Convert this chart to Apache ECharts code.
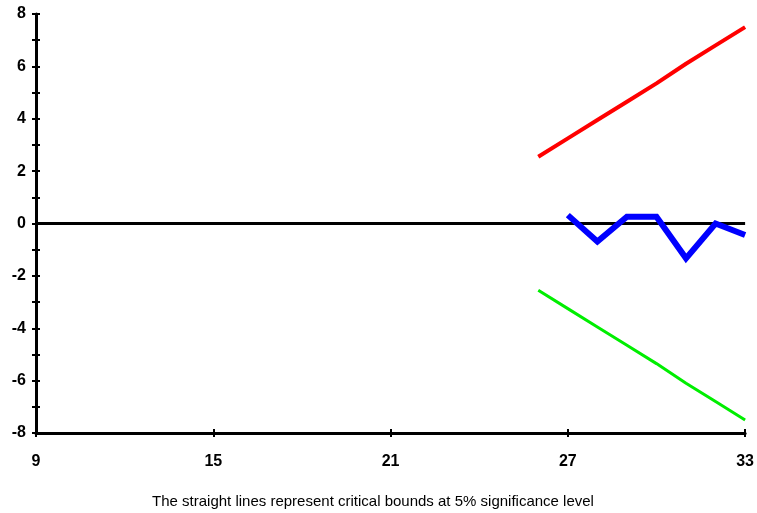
<!DOCTYPE html>
<html><head><meta charset="utf-8">
<script src="https://cdn.jsdelivr.net/npm/echarts@6/dist/echarts.min.js"></script>
<style>html,body{margin:0;padding:0;background:#fff}#c{width:757px;height:513px}</style>
</head><body><div id="c"></div>
<script>
const periods = [26, 27, 28, 29, 30, 31, 32, 33];
const upperBound = [2.55, 3.25, 3.95, 4.65, 5.35, 6.1, 6.8, 7.5];
const lowerBound = [-2.55, -3.25, -3.95, -4.65, -5.35, -6.1, -6.8, -7.5];
const cusumPeriods = [27, 28, 29, 30, 31, 32, 33];
const cusum = [0.32, -0.69, 0.26, 0.26, -1.33, 0.0, -0.44];
const zeroLine = [[9, 0], [33, 0]];
const caption = 'The straight lines represent critical bounds at 5% significance level';

const font = '"Liberation Sans Narrow", "Arial Narrow", "Liberation Sans", Arial, sans-serif';
const pair = (xs, ys) => xs.map((x, i) => [x, ys[i]]);

const chart = echarts.init(document.getElementById('c'));
const grid = { left: 36, right: 8, top: 14, bottom: 80 };
const xBase = { type: 'value', min: 9, max: 33, interval: 6, splitLine: { show: false } };
const yBase = { type: 'value', min: -8, max: 8, interval: 1, splitLine: { show: false } };
chart.setOption({
  animation: false,
  backgroundColor: '#fff',
  grid: grid,
  title: {
    text: caption, left: 368, top: 489, textAlign: 'center',
    textStyle: { fontFamily: font, fontSize: 15, fontWeight: 'normal', color: '#000' }
  },
  xAxis: [
    Object.assign({}, xBase, {
      axisLine: { onZero: false, lineStyle: { color: '#000', width: 3 } },
      axisTick: { show: true, length: 4, lineStyle: { color: '#000', width: 2 } },
      axisLabel: { color: '#000', fontFamily: font, fontWeight: 'bold', fontSize: 16, margin: 21 }
    }),
    Object.assign({}, xBase, {
      position: 'bottom',
      axisLine: { show: false, onZero: false },
      axisTick: { show: true, inside: true, length: 4, lineStyle: { color: '#000', width: 2 } },
      axisLabel: { show: false }
    })
  ],
  yAxis: [
    Object.assign({}, yBase, {
      axisLine: { show: true, onZero: false, lineStyle: { color: '#000', width: 3 } },
      axisTick: { show: true, length: 4, lineStyle: { color: '#000', width: 2 } },
      axisLabel: { color: '#000', fontFamily: font, fontWeight: 'bold', fontSize: 16, margin: 10,
        formatter: v => (Math.abs(v) % 2 === 0 ? String(v) : '') }
    }),
    Object.assign({}, yBase, {
      position: 'left',
      axisLine: { show: false, onZero: false },
      axisTick: { show: true, inside: true, length: 4, lineStyle: { color: '#000', width: 2 } },
      axisLabel: { show: false }
    })
  ],
  series: [
    { type: 'line', data: zeroLine, symbol: 'none', lineStyle: { color: '#000', width: 3 }, z: 1 },
    { type: 'line', data: pair(periods, upperBound), symbol: 'none', lineStyle: { color: '#ff0000', width: 4 } },
    { type: 'line', data: pair(periods, lowerBound), symbol: 'none', lineStyle: { color: '#00ee00', width: 3 } },
    { type: 'line', data: pair(cusumPeriods, cusum), symbol: 'none', lineStyle: { color: '#0000ff', width: 6, join: 'miter' } }
  ]
});
</script></body></html>
